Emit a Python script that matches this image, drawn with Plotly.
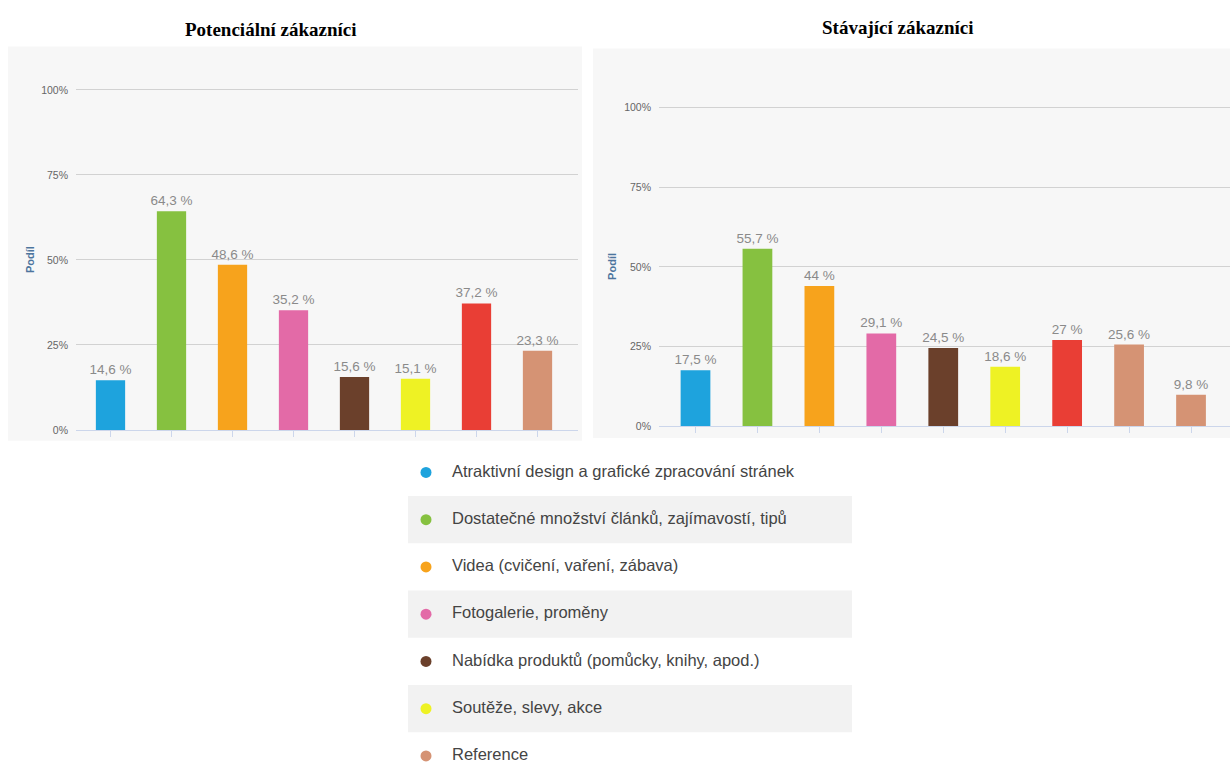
import plotly.graph_objects as go

W, H = 1230, 773

# ---------------- data ----------------
legend_labels = [
    "Atraktivní design a grafické zpracování stránek",
    "Dostatečné množství článků, zajímavostí, tipů",
    "Videa (cvičení, vaření, zábava)",
    "Fotogalerie, proměny",
    "Nabídka produktů (pomůcky, knihy, apod.)",
    "Soutěže, slevy, akce",
    "Reference",
]
BLUE, GREEN, ORANGE, PINK = "#1ea3dd", "#86c140", "#f7a31c", "#e36aa7"
BROWN, YELLOW, RED, TAN = "#6b402b", "#eef224", "#e93e35", "#d59374"
legend_colors = [BLUE, GREEN, ORANGE, PINK, BROWN, YELLOW, TAN]

pot_title = "Potenciální zákazníci"
pot_values = [14.6, 64.3, 48.6, 35.2, 15.6, 15.1, 37.2, 23.3]
pot_colors = [BLUE, GREEN, ORANGE, PINK, BROWN, YELLOW, RED, TAN]

sta_title = "Stávající zákazníci"
sta_values = [17.5, 55.7, 44, 29.1, 24.5, 18.6, 27, 25.6, 9.8]
sta_colors = [BLUE, GREEN, ORANGE, PINK, BROWN, YELLOW, RED, TAN, TAN]

y_tickvals = [0, 25, 50, 75, 100]
y_ticktext = ["0%", "25%", "50%", "75%", "100%"]
y_axis_title = "Podíl"

# ---------------- styles ----------------
SANS = "Liberation Sans Narrow, Arial Narrow, Liberation Sans, Arial, sans-serif"
SERIF = "Liberation Serif, Times New Roman, serif"


def fmt(v):
    return f"{v:g}".replace(".", ",") + " %"


def px_x(p):
    return p / W


def px_y(p):
    return 1 - p / H


fig = go.Figure()

bar_text_font = dict(family=SANS, size=13.5, color="#8a8a8a")

fig.add_trace(go.Bar(
    x=list(range(len(pot_values))), y=pot_values,
    marker=dict(color=pot_colors, line=dict(width=0)),
    width=0.48,
    text=[fmt(v) for v in pot_values], textposition="outside",
    textfont=bar_text_font, constraintext="none",
    cliponaxis=False, xaxis="x", yaxis="y", showlegend=False,
    hoverinfo="y",
))
fig.add_trace(go.Bar(
    x=list(range(len(sta_values))), y=sta_values,
    marker=dict(color=sta_colors, line=dict(width=0)),
    width=0.48,
    text=[fmt(v) for v in sta_values], textposition="outside",
    textfont=bar_text_font, constraintext="none",
    cliponaxis=False, xaxis="x2", yaxis="y2", showlegend=False,
    hoverinfo="y",
))

# custom legend drawn in its own axis
rows = list(range(len(legend_labels)))
fig.add_trace(go.Scatter(
    x=[18] * len(rows), y=rows, mode="markers",
    marker=dict(size=11, color=legend_colors),
    xaxis="x3", yaxis="y3", showlegend=False, hoverinfo="skip",
))
fig.add_trace(go.Scatter(
    x=[44] * len(rows), y=rows, mode="text", text=legend_labels,
    textposition="middle right",
    textfont=dict(family=SANS, size=16.5, color="#444444"),
    xaxis="x3", yaxis="y3", showlegend=False, hoverinfo="skip",
    cliponaxis=False,
))

shapes = [
    dict(type="rect", xref="paper", yref="paper", layer="below",
         x0=px_x(8), x1=px_x(582), y0=px_y(443), y1=px_y(44),
         fillcolor="#f7f7f7", line=dict(width=0)),
    dict(type="rect", xref="paper", yref="paper", layer="below",
         x0=px_x(593), x1=px_x(1230), y0=px_y(440), y1=px_y(46),
         fillcolor="#f7f7f7", line=dict(width=0)),
]
for r in rows:
    if r % 2 == 1:
        shapes.append(dict(type="rect", xref="x3", yref="y3", layer="below",
                           x0=0, x1=444, y0=r - 0.5, y1=r + 0.5,
                           fillcolor="#f2f2f2", line=dict(width=0)))

annotations = [
    dict(text=f"<b>{pot_title}</b>", x=px_x(271), y=px_y(27), xref="paper", yref="paper",
         xanchor="center", yanchor="middle",
         showarrow=False, font=dict(family=SERIF, size=19, color="#000000")),
    dict(text=f"<b>{sta_title}</b>", x=px_x(897), y=px_y(25), xref="paper", yref="paper",
         xanchor="center", yanchor="middle",
         showarrow=False, font=dict(family=SERIF, size=19, color="#000000")),
    dict(text=f"<b>{y_axis_title}</b>", x=px_x(30), y=px_y(260), xref="paper", yref="paper",
         xanchor="center", yanchor="middle",
         showarrow=False, textangle=-90, font=dict(family=SANS, size=11, color="#4d759e")),
    dict(text=f"<b>{y_axis_title}</b>", x=px_x(612), y=px_y(267), xref="paper", yref="paper",
         xanchor="center", yanchor="middle",
         showarrow=False, textangle=-90, font=dict(family=SANS, size=11, color="#4d759e")),
]

common_x = dict(showgrid=False, zeroline=False, showline=True, linecolor="#ccd6eb",
                ticks="outside", ticklen=6, tickcolor="#ccd6eb", showticklabels=False,
                fixedrange=True)
common_y = dict(range=[0, 101], tickvals=y_tickvals, ticktext=y_ticktext,
                showgrid=True, gridcolor="#d2d2d2", gridwidth=1, zeroline=False,
                showline=False, ticks="", ticklabelstandoff=7,
                tickfont=dict(family=SANS, size=10.5, color="#666666"), fixedrange=True)

# left panel geometry: category centres at 110.5 + 61*i px
L0, L1, LC, LS = 76, 578, 110.5, 61.0
# right panel geometry: category centres at 695.5 + 61.94*i px
R0, R1, RC, RS = 659, 1230, 695.5, 61.94

fig.update_layout(
    width=W, height=H,
    margin=dict(l=0, r=0, t=0, b=0),
    paper_bgcolor="#ffffff", plot_bgcolor="rgba(0,0,0,0)",
    bargap=0.5,
    shapes=shapes, annotations=annotations,
    xaxis=dict(domain=[px_x(L0), px_x(L1)],
               range=[(L0 - LC) / LS, (L1 - LC) / LS],
               tickvals=list(range(len(pot_values))), anchor="y", **common_x),
    yaxis=dict(domain=[px_y(432), px_y(432 - 3.44 * 101)], anchor="x", **common_y),
    xaxis2=dict(domain=[px_x(R0), px_x(R1)],
                range=[(R0 - RC) / RS, (R1 - RC) / RS],
                tickvals=list(range(len(sta_values))), anchor="y2", **common_x),
    yaxis2=dict(domain=[px_y(428), px_y(428 - 3.22 * 101)], anchor="x2", **common_y),
    xaxis3=dict(domain=[px_x(408), px_x(852)], range=[0, 444], visible=False,
                anchor="y3", fixedrange=True),
    yaxis3=dict(domain=[0, px_y(450)],
                range=[(773 - 475) / 47.8, (450 - 475) / 47.8],
                visible=False, anchor="x3", fixedrange=True),
)

fig.write_html("out.html")
